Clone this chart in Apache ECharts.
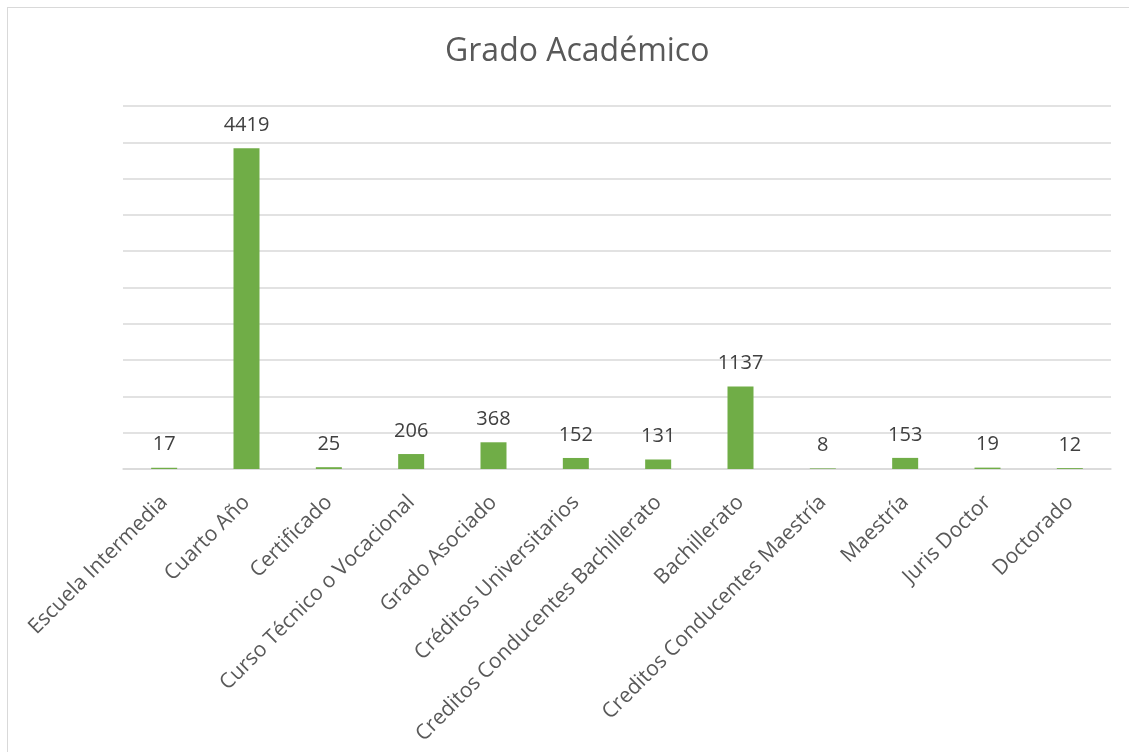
<!DOCTYPE html>
<html>
<head>
<meta charset="utf-8">
<script src="https://cdn.jsdelivr.net/npm/echarts@6/dist/echarts.min.js"></script>
<style>
  html, body { margin: 0; padding: 0; background: #fff; overflow: hidden; width: 1129px; height: 752px; }
  #frame { position: absolute; left: 7px; top: 7px; width: 1140px; height: 760px; border: 1px solid #d9d9d9; box-sizing: border-box; }
  #main { position: absolute; left: 0; top: 0; width: 1129px; height: 752px; }
</style>
</head>
<body>
<div id="frame"></div>
<div id="main"></div>
<script>
// categorias y valores
var categorias = ['Escuela Intermedia', 'Cuarto Año', 'Certificado', 'Curso Técnico o Vocacional',
  'Grado Asociado', 'Créditos Universitarios', 'Creditos Conducentes Bachillerato', 'Bachillerato',
  'Creditos Conducentes Maestría', 'Maestría', 'Juris Doctor', 'Doctorado'];
var valores = [17, 4419, 25, 206, 368, 152, 131, 1137, 8, 153, 19, 12];

var myChart = echarts.init(document.getElementById('main'));
myChart.setOption({
  animation: false,
  title: {
    text: 'Grado Académico',
    left: 440,
    top: 31,
    textStyle: { fontFamily: 'Open Sans', fontSize: 32, fontWeight: 'normal', color: '#595959' }
  },
  grid: { left: 123, right: 18, top: 106, bottom: 283 },
  xAxis: {
    type: 'category',
    data: categorias,
    axisLine: { lineStyle: { color: '#d9d9d9', width: 1.5 } },
    axisTick: { show: false },
    axisLabel: {
      interval: 0,
      rotate: 45,
      margin: 30,
      fontFamily: 'Open Sans',
      fontSize: 21,
      color: '#595959'
    }
  },
  yAxis: {
    type: 'value',
    min: 0,
    max: 5000,
    interval: 500,
    axisLabel: { show: false },
    axisLine: { show: false },
    axisTick: { show: false },
    splitLine: { lineStyle: { color: '#d9d9d9', width: 1.5 } }
  },
  series: [{
    type: 'bar',
    data: valores,
    barWidth: 26,
    itemStyle: { color: '#70ad47' },
    label: {
      show: true,
      position: 'top',
      distance: 13,
      fontFamily: 'Open Sans',
      fontSize: 20,
      color: '#404040'
    }
  }]
});
</script>
</body>
</html>
